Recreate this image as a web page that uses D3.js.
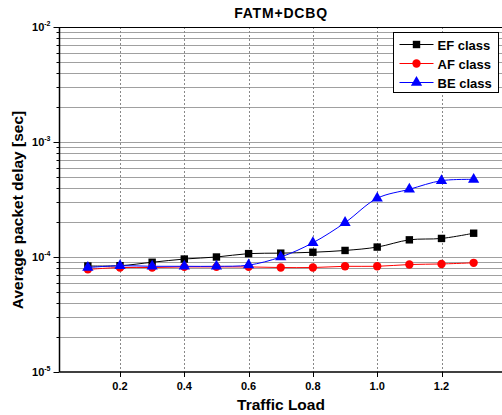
<!DOCTYPE html>
<html>
<head>
<meta charset="utf-8">
<script src="https://cdn.jsdelivr.net/npm/d3@7"></script>
<style>
  body { margin: 0; background: #fff; }
  text { font-family: "Liberation Sans", Arial, sans-serif; font-weight: bold; }
</style>
</head>
<body>
<div id="chart"></div>
<script>
// traffic load values
var loads = [0.1, 0.2, 0.3, 0.4, 0.5, 0.6, 0.7, 0.8, 0.9, 1.0, 1.1, 1.2, 1.3];
// delays in seconds
var efDelay = [8.35e-5, 8.4e-5, 9.0e-5, 9.6e-5, 1.0e-4, 1.07e-4, 1.08e-4, 1.1e-4, 1.14e-4, 1.22e-4, 1.41e-4, 1.45e-4, 1.61e-4];
var afDelay = [7.8e-5, 8.1e-5, 8.1e-5, 8.2e-5, 8.2e-5, 8.2e-5, 8.1e-5, 8.1e-5, 8.3e-5, 8.3e-5, 8.6e-5, 8.7e-5, 8.9e-5];
var beDelay = [8.1e-5, 8.4e-5, 8.3e-5, 8.3e-5, 8.3e-5, 8.5e-5, 1.0e-4, 1.33e-4, 1.99e-4, 3.24e-4, 3.88e-4, 4.61e-4, 4.73e-4];
var seriesNames = ["EF class", "AF class", "BE class"];
var xTicks = [0.2, 0.4, 0.6, 0.8, 1.0, 1.2];
var yExps = [-2, -3, -4, -5];

(function() {
var width = 502, height = 415,
    plotLeft = 59.5, plotTop = 27, plotBottom = 372;

var svg = d3.select("#chart").append("svg")
    .attr("width", width)
    .attr("height", height);

var x = d3.scaleLinear().domain([0, 1.4]).range([55.7, 55.7 + 1.4 * 321.5]);
var y = d3.scaleLog().domain([1e-5, 1e-2]).range([plotBottom, plotTop]);

// horizontal grid at every log tick
var logTicks = y.ticks();
svg.append("g").selectAll("line.hgrid")
    .data(logTicks.filter(function(d) { return d > 1e-5 && d < 1e-2; }))
    .enter().append("line")
        .attr("class", "hgrid")
        .attr("x1", plotLeft).attr("x2", width)
        .attr("y1", function(d) { return Math.round(y(d)) + 0.5; })
        .attr("y2", function(d) { return Math.round(y(d)) + 0.5; })
        .style("stroke", "#a0a0a0")
        .style("stroke-width", 1);

// vertical dotted grid
svg.append("g").selectAll("line.vgrid")
    .data(xTicks)
    .enter().append("line")
        .attr("class", "vgrid")
        .attr("x1", function(d) { return Math.round(x(d)) + 0.5; })
        .attr("x2", function(d) { return Math.round(x(d)) + 0.5; })
        .attr("y1", plotTop).attr("y2", plotBottom)
        .style("stroke", "#888")
        .style("stroke-dasharray", "2,2")
        .style("stroke-width", 1);

// frame top
svg.append("line")
    .attr("x1", plotLeft).attr("x2", width)
    .attr("y1", plotTop + 0.5).attr("y2", plotTop + 0.5)
    .style("stroke", "black").style("stroke-width", 1);

// y axis
var yAxis = svg.append("g").attr("transform", "translate(" + plotLeft + ",0)");
yAxis.append("line")
    .attr("x1", 0).attr("x2", 0).attr("y1", plotTop).attr("y2", plotBottom)
    .style("stroke", "black").style("stroke-width", 1.5);
yAxis.selectAll("line.tick")
    .data(logTicks)
    .enter().append("line")
        .attr("class", "tick")
        .attr("x1", function(d) { return Math.abs(Math.log10(d) - Math.round(Math.log10(d))) < 1e-6 ? -6 : -3; })
        .attr("x2", 0)
        .attr("y1", function(d) { return Math.round(y(d)) + 0.5; })
        .attr("y2", function(d) { return Math.round(y(d)) + 0.5; })
        .style("stroke", "black").style("stroke-width", 1);
var yLab = yAxis.selectAll("text.ylab")
    .data(yExps)
    .enter().append("text")
        .attr("class", "ylab")
        .attr("x", -9)
        .attr("y", function(d) { return y(Math.pow(10, d)) + 4; })
        .attr("text-anchor", "end")
        .style("font-size", "11px");
yLab.append("tspan").text("10");
yLab.append("tspan").attr("dy", -5).style("font-size", "7px").text(function(d) { return "-" + Math.abs(d); });

// x axis
var xAxis = svg.append("g").attr("transform", "translate(0," + plotBottom + ")");
xAxis.append("line")
    .attr("x1", plotLeft).attr("x2", width).attr("y1", 0).attr("y2", 0)
    .style("stroke", "black").style("stroke-width", 1.5);
xAxis.selectAll("line.tick")
    .data(xTicks)
    .enter().append("line")
        .attr("class", "tick")
        .attr("x1", function(d) { return Math.round(x(d)) + 0.5; })
        .attr("x2", function(d) { return Math.round(x(d)) + 0.5; })
        .attr("y1", 0).attr("y2", 5)
        .style("stroke", "black").style("stroke-width", 1);
xAxis.selectAll("text")
    .data(xTicks)
    .enter().append("text")
        .attr("x", function(d) { return x(d); })
        .attr("y", 18)
        .attr("text-anchor", "middle")
        .style("font-size", "11px")
        .text(function(d) { return d.toFixed(1); });

// titles
svg.append("text")
    .attr("x", 281).attr("y", 18)
    .attr("text-anchor", "middle")
    .style("font-size", "14px")
    .style("letter-spacing", "0.8px")
    .text("FATM+DCBQ");
svg.append("text")
    .attr("x", 281).attr("y", 410)
    .attr("text-anchor", "middle")
    .style("font-size", "15.5px")
    .text("Traffic Load");
svg.append("text")
    .attr("transform", "translate(23,210) rotate(-90)")
    .attr("text-anchor", "middle")
    .style("font-size", "15.5px")
    .text("Average packet delay [sec]");

// series
var series = [
    {name: seriesNames[0], values: efDelay, color: "black", shape: d3.symbolSquare},
    {name: seriesNames[1], values: afDelay, color: "red", shape: d3.symbolCircle},
    {name: seriesNames[2], values: beDelay, color: "blue", shape: d3.symbolTriangle}
];

var line = d3.line()
    .x(function(d) { return x(d[0]); })
    .y(function(d) { return y(d[1]); })
    .curve(d3.curveCatmullRom.alpha(0.5));

var sym = d3.symbol().size(55);

series.forEach(function(s) {
    var pts = loads.map(function(l, i) { return [l, s.values[i]]; });
    var g = svg.append("g");
    g.append("path")
        .attr("d", line(pts))
        .style("fill", "none")
        .style("stroke", s.color)
        .style("stroke-width", 1);
    g.selectAll("path.marker")
        .data(pts)
        .enter().append("path")
            .attr("class", "marker")
            .attr("transform", function(d) { return "translate(" + x(d[0]) + "," + y(d[1]) + ")"; })
            .attr("d", sym.type(s.shape)())
            .style("fill", s.color);
});

// legend
var legend = svg.append("g").attr("transform", "translate(393.5,32.5)");
legend.append("rect")
    .attr("width", 105).attr("height", 60)
    .style("fill", "white").style("stroke", "black").style("stroke-width", 1);
series.forEach(function(s, i) {
    var ly = 12 + i * 19;
    legend.append("line")
        .attr("x1", 6).attr("x2", 40).attr("y1", ly).attr("y2", ly)
        .style("stroke", s.color).style("stroke-width", 1);
    legend.append("path")
        .attr("transform", "translate(23," + ly + ")")
        .attr("d", sym.type(s.shape)())
        .style("fill", s.color);
    legend.append("text")
        .attr("x", 44).attr("y", ly + 5)
        .style("font-size", "13px")
        .text(s.name);
});
}());
</script>
</body>
</html>
